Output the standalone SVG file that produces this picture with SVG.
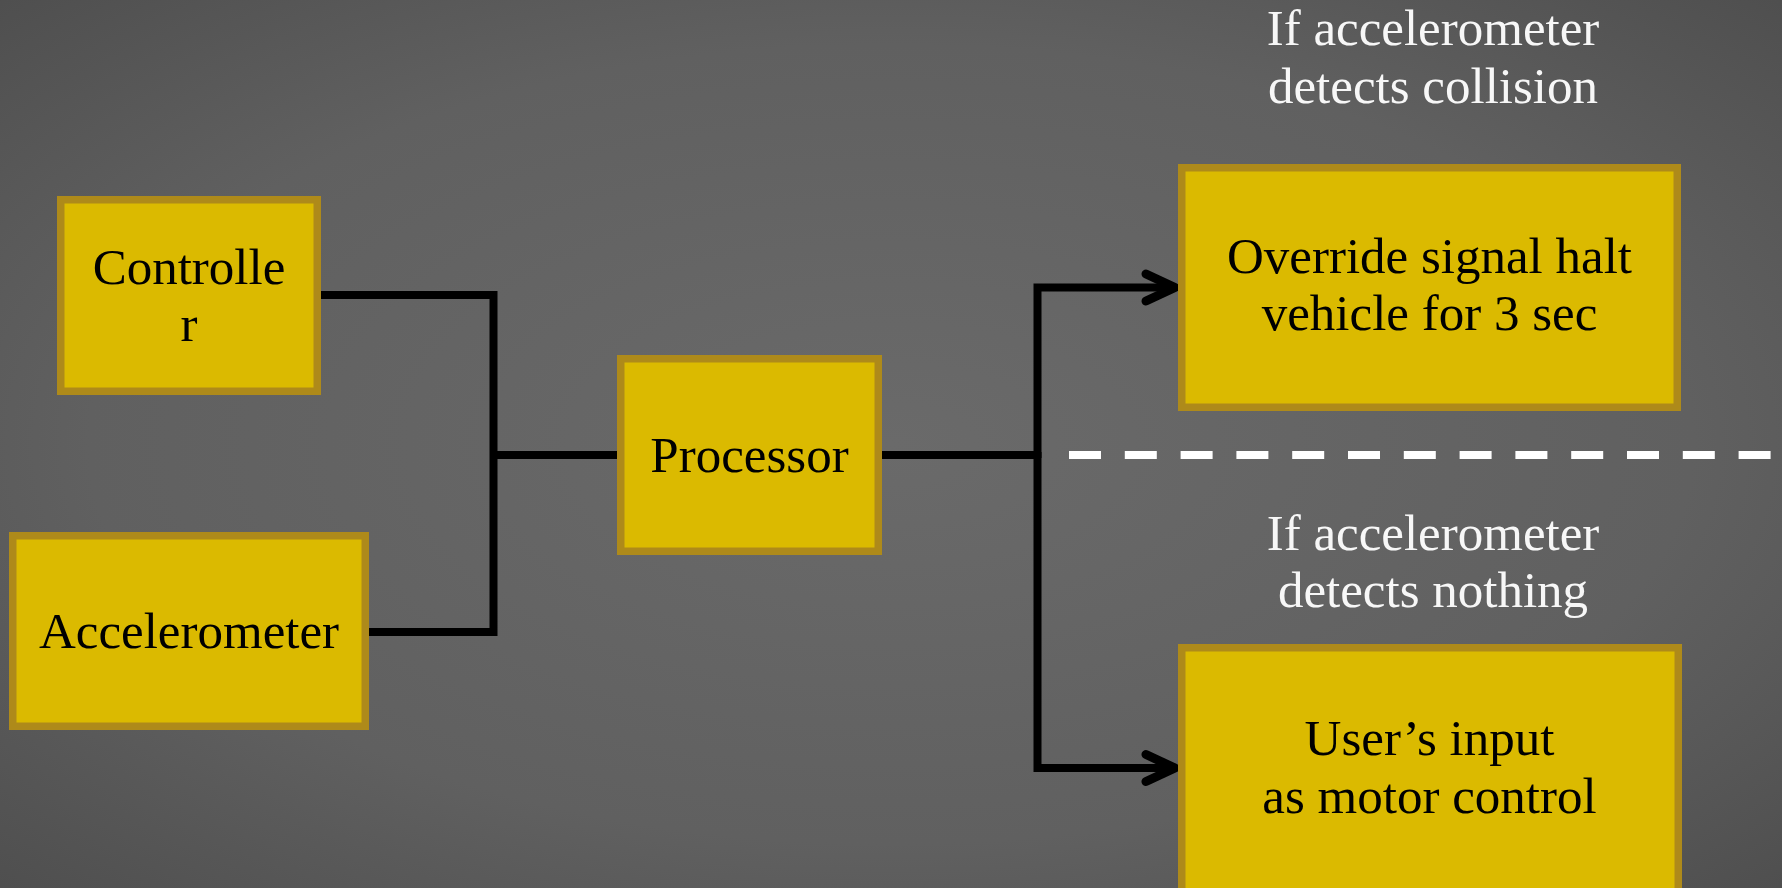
<svg xmlns="http://www.w3.org/2000/svg" width="1782" height="888" viewBox="0 0 1782 888">
  <defs>
    <radialGradient id="bg" cx="50%" cy="50%" r="75%">
      <stop offset="0" stop-color="#6a6a6a"/>
      <stop offset="0.6" stop-color="#606060"/>
      <stop offset="1" stop-color="#4c4c4c"/>
    </radialGradient>
    <marker id="chev" markerUnits="userSpaceOnUse" markerWidth="40" markerHeight="40" refX="35" refY="20" orient="auto" overflow="visible">
      <path d="M6,6.5 L35,20 L6,33.5" fill="none" stroke="#000" stroke-width="9" stroke-linecap="round" stroke-linejoin="round"/>
    </marker>
    <style>
      .box { fill: #dbba00; stroke: #ae8a1a; stroke-width: 7.5; }
      .t { font-family: "Liberation Serif", "Times New Roman", serif; font-size: 51px; fill: #000; text-anchor: middle; }
      .lbl { font-family: "Liberation Serif", "Times New Roman", serif; font-size: 51px; fill: #f7f7f7; text-anchor: middle; }
      .wire { fill: none; stroke: #000; stroke-width: 8; }
    </style>
  </defs>
  <rect x="0" y="0" width="1782" height="888" fill="url(#bg)"/>

  <g id="connectors">
    <path class="wire" d="M318,295 H493.5 V632 H366"/>
    <path class="wire" d="M493.5,455 H619"/>
    <path class="wire" d="M880,455 H1037.5"/>
    <path class="wire" d="M1037.5,458 V287.5 H1175" marker-end="url(#chev)"/>
    <path class="wire" d="M1037.5,452 V768 H1175" marker-end="url(#chev)"/>
  </g>

  <g id="divider">
    <path d="M1069,455 H1782" stroke="#ffffff" stroke-width="8" stroke-dasharray="32 23.8" fill="none"/>
  </g>

  <g id="controller">
    <rect class="box" x="60.75" y="199.75" width="256.5" height="191.5"/>
    <text class="t" x="189" y="284">Controlle</text>
    <text class="t" x="189" y="341">r</text>
  </g>

  <g id="accelerometer">
    <rect class="box" x="12.75" y="535.75" width="352.5" height="190.5"/>
    <text class="t" x="189" y="648">Accelerometer</text>
  </g>

  <g id="processor">
    <rect class="box" x="620.75" y="358.75" width="257.5" height="192.5"/>
    <text class="t" x="749.5" y="472">Processor</text>
  </g>

  <g id="override">
    <rect class="box" x="1181.75" y="167.75" width="495.5" height="239.5"/>
    <text class="t" x="1429.5" y="273">Override signal halt</text>
    <text class="t" x="1429.5" y="330">vehicle for 3 sec</text>
  </g>

  <g id="user-input">
    <rect class="box" x="1181.75" y="647.75" width="496.5" height="250"/>
    <text class="t" x="1429.5" y="755">User’s input</text>
    <text class="t" x="1429.5" y="813">as motor control</text>
  </g>

  <g id="label-collision">
    <text class="lbl" x="1433" y="45">If accelerometer</text>
    <text class="lbl" x="1433" y="103">detects collision</text>
  </g>

  <g id="label-nothing">
    <text class="lbl" x="1433" y="550">If accelerometer</text>
    <text class="lbl" x="1433" y="607">detects nothing</text>
  </g>
</svg>
